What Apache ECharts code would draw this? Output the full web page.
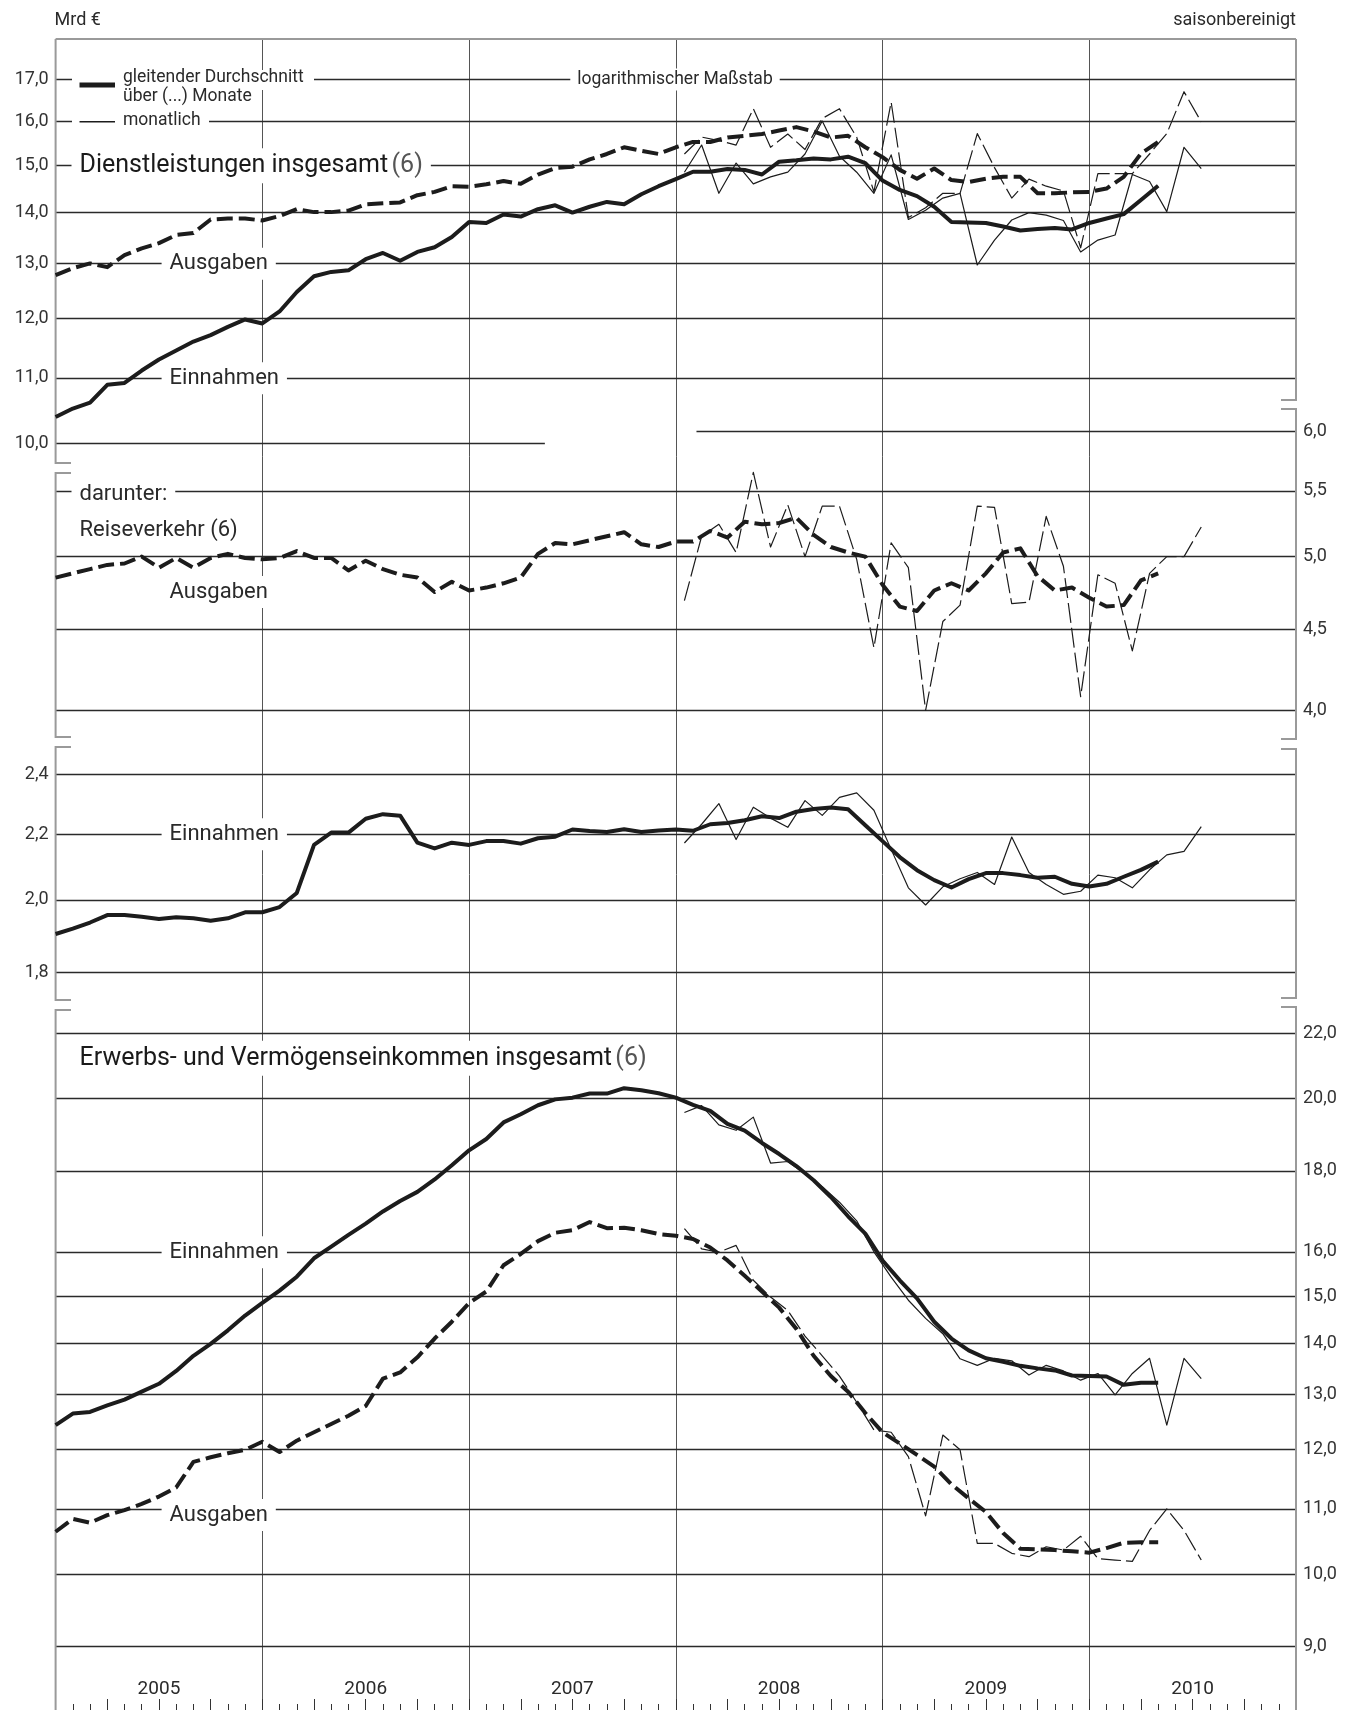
<!DOCTYPE html>
<html>
<head>
<meta charset="utf-8">
<title>Dienstleistungen / Erwerbs- und Vermögenseinkommen</title>
<script src="https://cdn.jsdelivr.net/npm/echarts@6/dist/echarts.min.js"></script>
<style>
  html, body { margin: 0; padding: 0; background: #fff; }
  #chart { width: 1357px; height: 1710px; }
</style>
</head>
<body>
<div id="chart"></div>
<script>
  var years = ['2005', '2006', '2007', '2008', '2009', '2010'];

  // gleitende Durchschnitte, Monatsgrenzen ab Jan 2005
  var dienstEinMA = [10.39, 10.52, 10.61, 10.89, 10.92, 11.12, 11.30, 11.45, 11.60, 11.71,
    11.85, 11.98, 11.91, 12.12, 12.47, 12.76, 12.84, 12.87, 13.08, 13.20,
    13.05, 13.22, 13.31, 13.51, 13.81, 13.79, 13.96, 13.92, 14.07, 14.15,
    14.00, 14.12, 14.22, 14.17, 14.38, 14.55, 14.70, 14.86, 14.86, 14.92,
    14.90, 14.80, 15.08, 15.11, 15.15, 15.13, 15.19, 15.05, 14.67, 14.47,
    14.34, 14.12, 13.81, 13.80, 13.79, 13.72, 13.64, 13.67, 13.69, 13.66,
    13.79, 13.88, 13.97, 14.26, 14.56];
  var dienstAusMA = [12.78, 12.91, 13.00, 12.93, 13.16, 13.29, 13.39, 13.55, 13.59, 13.86,
    13.88, 13.88, 13.84, 13.93, 14.07, 14.01, 14.01, 14.04, 14.17, 14.19,
    14.21, 14.36, 14.43, 14.55, 14.54, 14.59, 14.66, 14.60, 14.80, 14.94,
    14.97, 15.13, 15.25, 15.40, 15.32, 15.25, 15.40, 15.52, 15.52, 15.62,
    15.66, 15.70, 15.78, 15.86, 15.76, 15.62, 15.66, 15.40, 15.18, 14.90,
    14.71, 14.93, 14.68, 14.64, 14.71, 14.75, 14.75, 14.40, 14.40, 14.42,
    14.43, 14.50, 14.75, 15.26, 15.52];
  var reiseAusMA = [4.85, 4.88, 4.91, 4.94, 4.95, 5.00, 4.92, 4.99, 4.92, 4.99,
    5.02, 4.99, 4.98, 4.99, 5.04, 4.99, 4.99, 4.90, 4.97, 4.91,
    4.87, 4.85, 4.75, 4.82, 4.76, 4.78, 4.81, 4.85, 5.02, 5.10,
    5.09, 5.12, 5.15, 5.18, 5.09, 5.07, 5.11, 5.11, 5.19, 5.14,
    5.26, 5.24, 5.25, 5.29, 5.16, 5.07, 5.03, 5.00, 4.80, 4.65,
    4.62, 4.76, 4.81, 4.76, 4.88, 5.03, 5.06, 4.86, 4.76, 4.78,
    4.71, 4.65, 4.66, 4.83, 4.88];
  var reiseEinMA = [1.903, 1.918, 1.935, 1.956, 1.956, 1.951, 1.945, 1.950, 1.947, 1.940,
    1.947, 1.964, 1.964, 1.979, 2.020, 2.166, 2.205, 2.205, 2.250, 2.265,
    2.260, 2.173, 2.155, 2.173, 2.166, 2.178, 2.178, 2.170, 2.187, 2.192,
    2.215, 2.210, 2.207, 2.216, 2.207, 2.212, 2.215, 2.211, 2.232, 2.236,
    2.245, 2.258, 2.252, 2.273, 2.282, 2.287, 2.281, 2.229, 2.178, 2.128,
    2.088, 2.058, 2.036, 2.061, 2.079, 2.079, 2.073, 2.065, 2.068, 2.047,
    2.039, 2.047, 2.068, 2.089, 2.114];
  var erwerbEinMA = [12.43, 12.64, 12.67, 12.79, 12.90, 13.05, 13.20, 13.45, 13.75, 13.99,
    14.27, 14.58, 14.85, 15.12, 15.43, 15.85, 16.12, 16.40, 16.67, 16.97,
    17.23, 17.46, 17.78, 18.15, 18.55, 18.86, 19.32, 19.55, 19.81, 19.98,
    20.03, 20.15, 20.15, 20.31, 20.25, 20.16, 20.03, 19.82, 19.65, 19.28,
    19.09, 18.75, 18.45, 18.13, 17.76, 17.33, 16.85, 16.43, 15.80, 15.35,
    14.95, 14.45, 14.10, 13.86, 13.70, 13.63, 13.55, 13.50, 13.46, 13.36,
    13.35, 13.34, 13.18, 13.22, 13.22];
  var erwerbAusMA = [10.64, 10.84, 10.78, 10.90, 10.98, 11.08, 11.20, 11.35, 11.78, 11.86,
    11.93, 11.99, 12.13, 11.95, 12.15, 12.30, 12.45, 12.60, 12.78, 13.30,
    13.42, 13.72, 14.10, 14.45, 14.85, 15.10, 15.69, 15.95, 16.25, 16.45,
    16.51, 16.71, 16.56, 16.57, 16.51, 16.42, 16.38, 16.30, 16.10, 15.80,
    15.45, 15.10, 14.75, 14.30, 13.75, 13.35, 13.05, 12.65, 12.30, 12.10,
    11.90, 11.70, 11.40, 11.17, 10.95, 10.62, 10.38, 10.37, 10.36, 10.34,
    10.32, 10.39, 10.47, 10.48, 10.48];

  // monatliche Werte Jan 2008 bis Jul 2010
  var monStart = 36;
  var dienstEinMon = [14.85, 15.45, 14.40, 15.05, 14.60, 14.75, 14.85, 15.25, 16.00, 15.20, 14.85, 14.40,
    15.23, 13.86, 14.05, 14.30, 14.40, 12.97, 13.45, 13.85, 14.00, 13.95, 13.84, 13.22,
    13.45, 13.55, 14.80, 14.65, 14.02, 15.40, 14.93];
  var dienstAusMon = [15.25, 15.63, 15.55, 15.45, 16.29, 15.40, 15.70, 15.35, 16.06, 16.29, 15.63, 14.43,
    16.45, 13.90, 14.10, 14.40, 14.40, 15.71, 14.95, 14.30, 14.70, 14.55, 14.45, 13.30,
    14.82, 14.82, 14.82, 15.25, 15.71, 16.70, 15.98];
  var reiseAusMon = [4.69, 5.15, 5.24, 5.03, 5.65, 5.07, 5.39, 5.00, 5.38, 5.38, 4.98, 4.38,
    5.10, 4.92, 4.00, 4.55, 4.66, 5.38, 5.37, 4.67, 4.68, 5.30, 4.93, 4.08,
    4.87, 4.81, 4.36, 4.88, 5.00, 5.00, 5.22];
  var reiseEinMon = [2.172, 2.232, 2.300, 2.183, 2.288, 2.252, 2.222, 2.310, 2.261, 2.321, 2.336, 2.278,
    2.152, 2.035, 1.985, 2.038, 2.062, 2.081, 2.045, 2.191, 2.081, 2.045, 2.016, 2.025,
    2.073, 2.065, 2.035, 2.089, 2.135, 2.146, 2.224];
  var erwerbEinMon = [19.60, 19.80, 19.25, 19.10, 19.47, 18.21, 18.25, 17.92, 17.59, 17.20, 16.74, 16.00,
    15.42, 14.91, 14.52, 14.20, 13.69, 13.56, 13.70, 13.65, 13.37, 13.56, 13.45, 13.27,
    13.40, 12.99, 13.40, 13.70, 12.43, 13.70, 13.30];
  var erwerbAusMon = [16.55, 16.07, 15.99, 16.15, 15.35, 14.98, 14.69, 14.15, 13.75, 13.35, 12.85, 12.34,
    12.30, 11.87, 10.89, 12.25, 11.99, 10.46, 10.46, 10.31, 10.26, 10.41, 10.36, 10.57,
    10.23, 10.21, 10.19, 10.66, 11.00, 10.66, 10.21];

  // Gitterlinien je Teilbild
  var dienstTicks = [17, 16, 15, 14, 13, 12, 11];
  var reiseAusTicks = [5.5, 5, 4.5, 4];
  var reiseEinTicks = [2.4, 2.2, 2.0, 1.8];
  var erwerbTicks = [22, 20, 18, 16, 15, 14, 13, 12, 11, 10, 9];

  var FONT = 'Roboto, "Noto Sans", sans-serif';
  var INK = '#1c1c1c';
  var TXT = '#2a2a2a';
  var LEFT = 55.6, RIGHT = 1296, TOP = 39, BOTTOM = 1710;

  // log-Achsen: gleiche Teilung in allen Teilbildern
  var panels = [
    {top: 39, bottom: 463, hi: [17, 79.5], lo: [10, 443.3]},
    {top: 409, bottom: 739, hi: [6, 431], lo: [4, 710.3]},
    {top: 747, bottom: 1000, hi: [2.4, 774.3], lo: [1.8, 972.3]},
    {top: 1007, bottom: 1710, hi: [22, 1033.3], lo: [10, 1574.3]}
  ];
  panels.forEach(function (p) {
    var k = (p.lo[1] - p.hi[1]) / Math.log(p.hi[0] / p.lo[0]);
    p.min = p.lo[0] * Math.exp((p.lo[1] - p.bottom) / k);
    p.max = p.lo[0] * Math.exp((p.lo[1] - p.top) / k);
  });

  function fmt(v) { return v.toFixed(1).replace('.', ','); }
  function maPts(arr) { return arr.map(function (v, i) { return [i, v]; }); }
  function monPts(arr) { return arr.map(function (v, i) { return [monStart + i + 0.5, v]; }); }

  var grids = [{left: LEFT, top: TOP, width: RIGHT - LEFT, height: BOTTOM - TOP}];
  var xAxes = [
    {gridIndex: 0, type: 'value', position: 'bottom', min: 0, max: 72, interval: 12,
      axisLine: {show: false}, axisTick: {show: false}, axisLabel: {show: false},
      splitLine: {show: true, lineStyle: {width: 1,
        color: ['rgba(0,0,0,0)', '#555', '#555', '#555', '#555', '#555', 'rgba(0,0,0,0)']}}},
    {gridIndex: 0, type: 'value', position: 'bottom', min: 0, max: 72, interval: 1,
      axisLine: {show: false}, axisLabel: {show: false}, splitLine: {show: false},
      axisTick: {show: true, inside: true, length: 6, lineStyle: {color: '#333', width: 1}}},
    {gridIndex: 0, type: 'value', position: 'bottom', min: 0, max: 72, interval: 3,
      axisLine: {show: false}, axisLabel: {show: false}, splitLine: {show: false},
      axisTick: {show: true, inside: true, length: 11, lineStyle: {color: '#333', width: 1}}},
    {gridIndex: 0, type: 'value', position: 'bottom', min: 0, max: 72, interval: 6,
      axisLine: {show: false}, axisTick: {show: false}, splitLine: {show: false},
      axisLabel: {show: true, inside: true, margin: 11, color: TXT, fontSize: 19, fontFamily: FONT,
        formatter: function (v) { return v % 12 === 6 ? years[(v - 6) / 12] : ''; }}}
  ];
  var yAxes = [{gridIndex: 0, type: 'value', min: 0, max: 1, show: false}];
  panels.forEach(function (p, i) {
    grids.push({left: LEFT, top: p.top, width: RIGHT - LEFT, height: p.bottom - p.top});
    xAxes.push({gridIndex: i + 1, type: 'value', min: 0, max: 72, show: false});
    yAxes.push({gridIndex: i + 1, type: 'log', logBase: 10, min: p.min, max: p.max, show: false});
  });

  function gridSeries(i, lines, pos) {
    return {
      type: 'line', xAxisIndex: i + 4, yAxisIndex: i + 1, data: [], silent: true,
      zlevel: 0, z: 1,
      markLine: {
        silent: true, symbol: ['none', 'none'], animation: false,
        lineStyle: {color: '#2a2a2a', width: 1.3, type: 'solid'},
        label: {show: true, position: pos, formatter: '{b}', color: '#333',
          fontSize: 18, fontFamily: FONT, distance: 7},
        emphasis: {disabled: true},
        data: lines
      }
    };
  }
  function ticks(arr) { return arr.map(function (v) { return {yAxis: v, name: fmt(v)}; }); }

  function line(i, data, width, dash) {
    return {
      type: 'line', xAxisIndex: i + 4, yAxisIndex: i + 1, data: data,
      zlevel: 2, z: 10, symbol: 'none', silent: true,
      lineStyle: {color: INK, width: width, type: dash || 'solid', join: 'round'}
    };
  }
  var THICK = 4, THIN = 1.2, DASH_T = [16, 6], DASH_M = [20, 5];

  var series = [
    gridSeries(0, ticks(dienstTicks).concat([[{coord: [0, 10], name: '10,0'}, {coord: [28.4, 10]}]]), 'start'),
    gridSeries(1, [[{coord: [37.2, 6], name: '6,0'}, {coord: [72, 6]}]].concat(ticks(reiseAusTicks)), 'end'),
    gridSeries(2, ticks(reiseEinTicks), 'start'),
    gridSeries(3, ticks(erwerbTicks), 'end'),

    line(0, monPts(dienstAusMon), THIN, DASH_M),
    line(0, monPts(dienstEinMon), THIN),
    line(0, maPts(dienstAusMA), THICK, DASH_T),
    line(0, maPts(dienstEinMA), THICK),

    line(1, monPts(reiseAusMon), THIN, DASH_M),
    line(1, maPts(reiseAusMA), THICK, DASH_T),

    line(2, monPts(reiseEinMon), THIN),
    line(2, maPts(reiseEinMA), THICK),

    line(3, monPts(erwerbAusMon), THIN, DASH_M),
    line(3, monPts(erwerbEinMon), THIN),
    line(3, maPts(erwerbAusMA), THICK, DASH_T),
    line(3, maPts(erwerbEinMA), THICK)
  ];

  // Beschriftungen mit weißem Hintergrund
  function label(x, y, text, size, extra) {
    var st = {
      x: x, y: y, text: text, fill: TXT, font: size + 'px ' + FONT,
      align: 'left', verticalAlign: 'middle', backgroundColor: '#fff', padding: [5, 8]
    };
    for (var k in extra) st[k] = extra[k];
    return {type: 'text', zlevel: 1, z: 5, silent: true, style: st};
  }
  function titleLabel(x, y, main) {
    return {type: 'text', zlevel: 1, z: 5, silent: true, style: {
      x: x, y: y, text: '{a|' + main + '} {b|(6)}',
      align: 'left', verticalAlign: 'middle', backgroundColor: '#fff', padding: [5, 8],
      rich: {
        a: {fill: '#1a1a1a', font: '25px ' + FONT},
        b: {fill: '#555', font: '25px ' + FONT}
      }
    }};
  }
  function frame(points) {
    return {type: 'polyline', zlevel: 1, z: 4, silent: true, shape: {points: points},
      style: {stroke: '#9a9a9a', lineWidth: 2, fill: null}};
  }
  function whiteBox(x, y, w, h) {
    return {type: 'rect', zlevel: 1, z: 5, silent: true, shape: {x: x, y: y, width: w, height: h},
      style: {fill: '#fff'}};
  }

  var graphics = [
    {type: 'text', zlevel: 1, silent: true, style: {x: LEFT - 1, y: 20, text: 'Mrd €', fill: TXT,
      font: '18px ' + FONT, verticalAlign: 'middle'}},
    {type: 'text', zlevel: 1, silent: true, style: {x: RIGHT, y: 20, text: 'saisonbereinigt', fill: TXT,
      font: '18px ' + FONT, align: 'right', verticalAlign: 'middle'}},

    frame([[LEFT, TOP], [RIGHT, TOP]]),
    frame([[LEFT, TOP], [LEFT, 463], [71, 463]]),
    frame([[71, 473], [LEFT, 473], [LEFT, 737], [71, 737]]),
    frame([[71, 747], [LEFT, 747], [LEFT, 1000], [71, 1000]]),
    frame([[71, 1010], [LEFT, 1010], [LEFT, BOTTOM]]),
    frame([[RIGHT, TOP], [RIGHT, 400], [1281, 400]]),
    frame([[1281, 409], [RIGHT, 409], [RIGHT, 739], [1281, 739]]),
    frame([[1281, 749], [RIGHT, 749], [RIGHT, 998], [1281, 998]]),
    frame([[1281, 1007], [RIGHT, 1007], [RIGHT, BOTTOM]]),

    // Legende
    whiteBox(72, 70, 242, 20),
    whiteBox(72, 113, 137, 18),
    {type: 'line', zlevel: 1, z: 6, silent: true, shape: {x1: 79.5, y1: 85, x2: 115, y2: 85},
      style: {stroke: INK, lineWidth: 5}},
    {type: 'line', zlevel: 1, z: 6, silent: true, shape: {x1: 79.5, y1: 121.7, x2: 115, y2: 121.7},
      style: {stroke: INK, lineWidth: 1.5}},
    label(115, 78, 'gleitender Durchschnitt', 17.5, {padding: [0, 8], backgroundColor: null, z: 6}),
    label(115, 97, 'über (...) Monate', 17.5, {padding: [0, 8], backgroundColor: null, z: 6}),
    label(115, 121, 'monatlich', 17.5, {padding: [0, 8], backgroundColor: null, z: 6}),
    label(675, 79.5, 'logarithmischer Maßstab', 17.5, {align: 'center', padding: [2, 7]}),

    titleLabel(71.5, 165.7, 'Dienstleistungen insgesamt'),
    label(161.6, 263.7, 'Ausgaben', 22),
    label(161.6, 378.3, 'Einnahmen', 22),

    label(71.5, 494, 'darunter:', 22, {padding: [3, 8]}),
    label(71.5, 530, 'Reiseverkehr (6)', 22, {padding: [3, 8]}),
    label(161.6, 592, 'Ausgaben', 22),

    label(161.6, 834.3, 'Einnahmen', 22),

    titleLabel(71.5, 1058.3, 'Erwerbs- und Vermögenseinkommen insgesamt'),
    label(161.6, 1252.3, 'Einnahmen', 22),
    label(161.6, 1515, 'Ausgaben', 22)
  ];

  var chart = echarts.init(document.getElementById('chart'), null, {renderer: 'canvas'});
  chart.setOption({
    animation: false,
    backgroundColor: '#fff',
    textStyle: {fontFamily: FONT},
    grid: grids,
    xAxis: xAxes,
    yAxis: yAxes,
    series: series,
    graphic: graphics
  });
</script>
</body>
</html>
